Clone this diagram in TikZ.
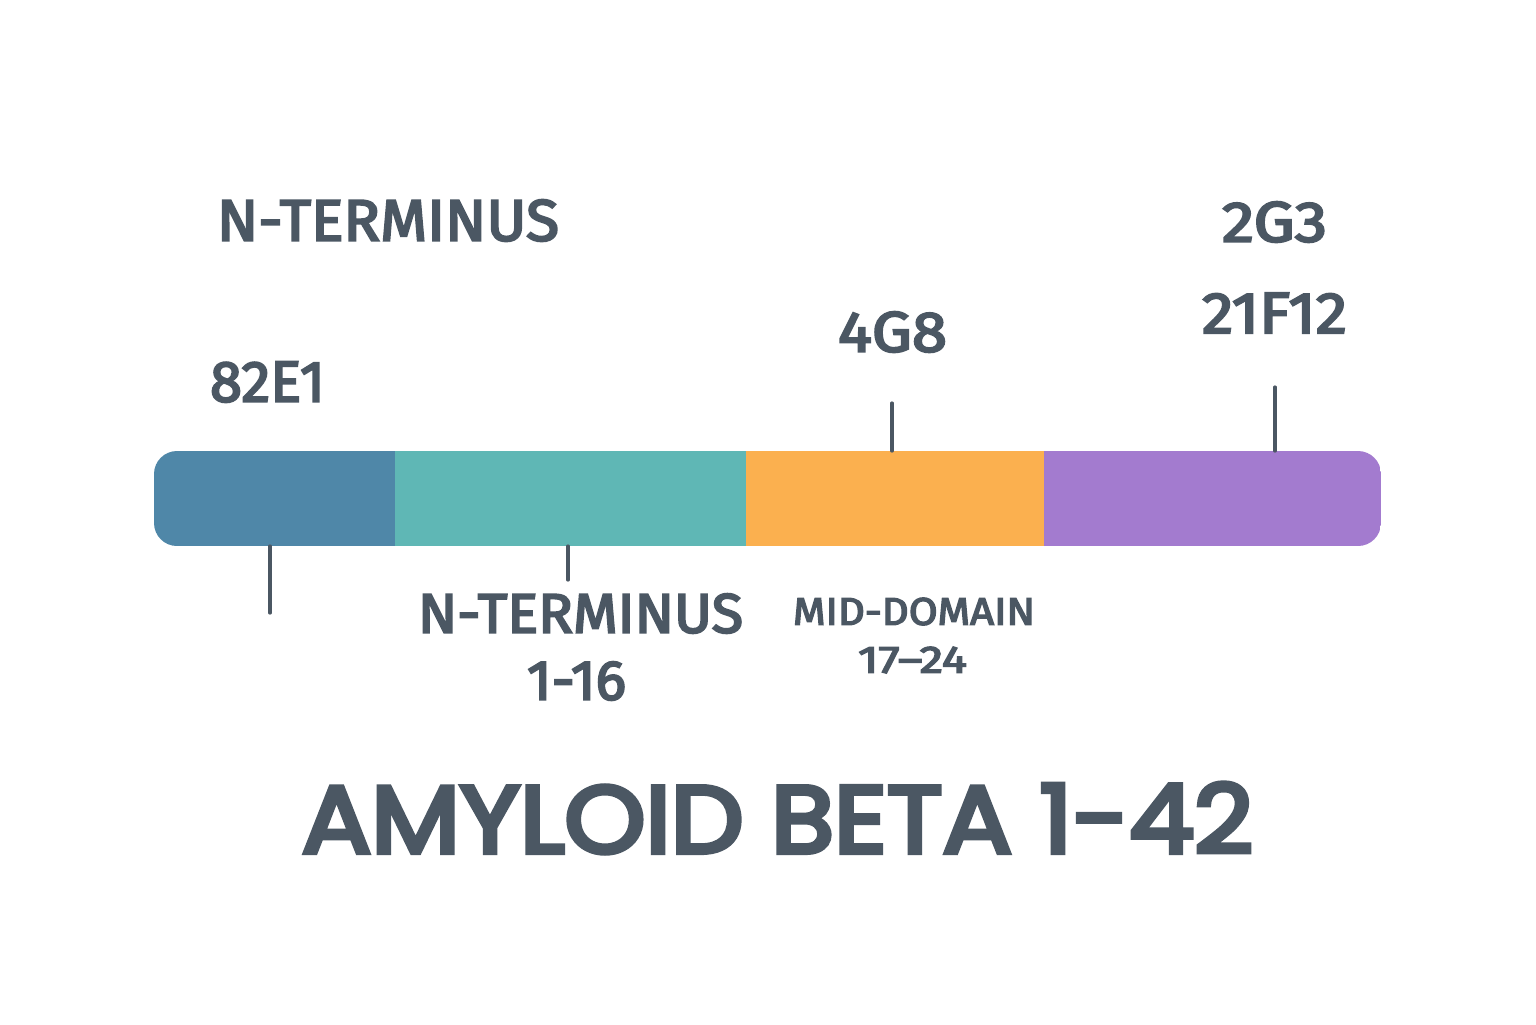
\documentclass[tikz,border=0pt]{standalone}
\usepackage{fontspec}
\setmainfont{Fira Sans}
\newfontfamily\lblfont{Fira Sans}[FakeBold=3.5]
\newfontfamily\titlefont{Poppins}[FakeBold=5]
\usepackage{graphicx}
\definecolor{ink}{HTML}{4B5763}
\definecolor{segblue}{HTML}{4F87A8}
\definecolor{segteal}{HTML}{5FB7B5}
\definecolor{segorange}{HTML}{FBB04F}
\definecolor{segpurple}{HTML}{A37BCF}
\newcommand{\fitlbl}[3]{\resizebox{#1pt}{#2pt}{\lblfont #3}}
\begin{document}
\begin{tikzpicture}[x=0.5pt,y=-0.5pt,
  lbl/.style={inner sep=0pt, outer sep=0pt, text=ink, anchor=center},
  tick/.style={draw=ink, line width=1.6pt, line cap=round}]
\fill[white] (0,0) rectangle (1536,1024);
\useasboundingbox (0,0) rectangle (1536,1024);
% bar
\begin{scope}
\clip[rounded corners=11.5pt] (154,451) rectangle (1381,546);
\fill[segblue] (154,451) rectangle (395,546);
\fill[segteal] (394.5,451) rectangle (746,546);
\fill[segorange] (745.5,451) rectangle (1044,546);
\fill[segpurple] (1043.5,451) rectangle (1381,546);
\end{scope}
% tick end points
\coordinate (t1a) at (270,546); \coordinate (t1b) at (270,613);
\coordinate (t2a) at (568,546); \coordinate (t2b) at (568,580);
\coordinate (t3a) at (892,451); \coordinate (t3b) at (892,403);
\coordinate (t4a) at (1275,451); \coordinate (t4b) at (1275,387);
\draw[tick] (t1a) -- (t1b);
\draw[tick] (t2a) -- (t2b);
\draw[tick] (t3a) -- (t3b);
\draw[tick] (t4a) -- (t4b);
% labels
\node[lbl] (ntop) at (388,220.5) {\fitlbl{171}{20.5}{N-TERMINUS}};
\node[lbl] (e82) at (267.5,382) {\fitlbl{57.5}{20}{82E1}};
\node[lbl] (g3) at (1274.5,222) {\fitlbl{52.5}{20}{2G3}};
\node[lbl] (f12) at (1274.5,313) {\fitlbl{72.5}{20}{21F12}};
\node[lbl] (g48) at (892.5,332) {\fitlbl{54.5}{20}{4G8}};
\node[lbl] (nbot) at (580.5,613.5) {\fitlbl{162.5}{19.5}{N-TERMINUS}};
\node[lbl] (r116) at (576.5,681) {\fitlbl{49.5}{19}{1-16}};
\node[lbl] (mid) at (914,611.5) {\fitlbl{121}{13.5}{MID-DOMAIN}};
\node[lbl] (r1724) at (912.5,660) {\fitlbl{54.5}{13}{17–24}};
\node[lbl] (title) at (777.5,818) {\resizebox{475.5pt}{35pt}{\titlefont AMYLOID BETA 1-42}};
\end{tikzpicture}
\end{document}
